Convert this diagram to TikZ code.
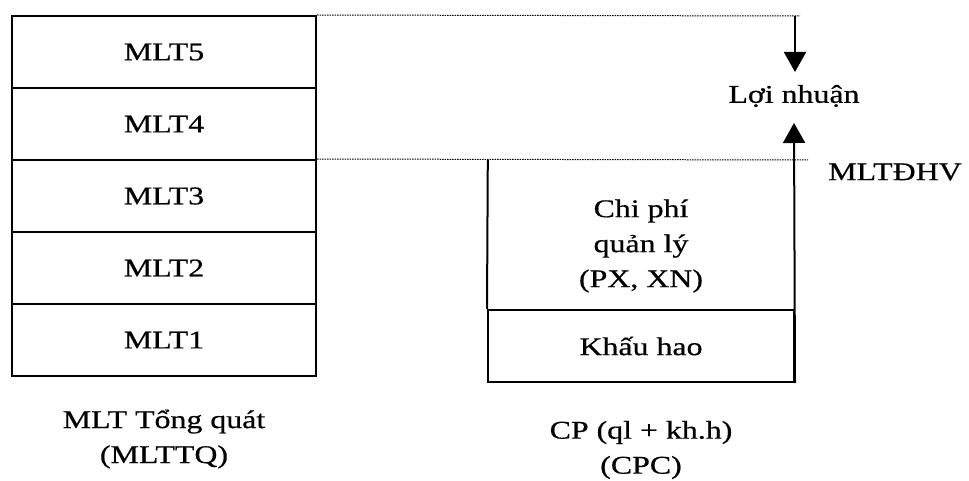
\documentclass[tikz,border=0pt]{standalone}
\usepackage{fontspec}
\setmainfont{Liberation Serif}[FakeStretch=1.25,FakeBold=0.6]
\usetikzlibrary{arrows.meta}
\begin{document}
\begin{tikzpicture}[x=1pt,y=-1pt,
  txt/.style={font=\fontsize{25.5}{35}\selectfont, align=center, inner sep=0pt},
  rowbox/.style={txt, draw, line width=2pt, minimum width=304pt, minimum height=72pt},
  solid line/.style={line width=2pt},
  dotline/.style={line width=1pt, dash pattern=on 1.5pt off 1pt},
  arr/.style={line width=2pt, -{Triangle[length=20pt,width=22pt]}}]
\useasboundingbox (0,0) rectangle (969,481);
% left stack
\node[rowbox] (m5) at (164,52) {MLT5};
\node[rowbox] (m4) at (164,124) {MLT4};
\node[rowbox] (m3) at (164,196) {MLT3};
\node[rowbox] (m2) at (164,268) {MLT2};
\node[rowbox] (m1) at (164,340) {MLT1};
\node[txt] (tq) at (164,439) {MLT Tổng quát\\(MLTTQ)};
% right stack
\node[inner sep=0pt, minimum width=306pt, minimum height=150pt] (cp) at (641,235) {};
\node[txt] (cpt) at (641,246) {Chi phí\\quản lý\\(PX, XN)};
\node[rowbox, minimum width=306pt] (kh) at (641,346) {Khấu hao};
\draw[solid line] (cp.north west) -- (kh.north west);
\node[txt] (cpc) at (641,450) {CP (ql + kh.h)\\(CPC)};
% labels
\node[txt] (ln) at (794,96) {Lợi nhuận};
\node[txt] (dhv) at (895,172) {MLTĐHV};
% dotted guide lines
\coordinate (e1) at (800,16);
\coordinate (e2) at (808,160);
\draw[dotline] (m5.north east) -- (e1);
\draw[dotline] (m3.north east) -- (e2);
% arrows
\coordinate (a1) at (795,16);
\coordinate (t1) at (795,72);
\coordinate (t2) at (794,123);
\draw[arr] (a1) -- (t1);
\draw[arr] (kh.south east) -- (t2);
\end{tikzpicture}
\end{document}
